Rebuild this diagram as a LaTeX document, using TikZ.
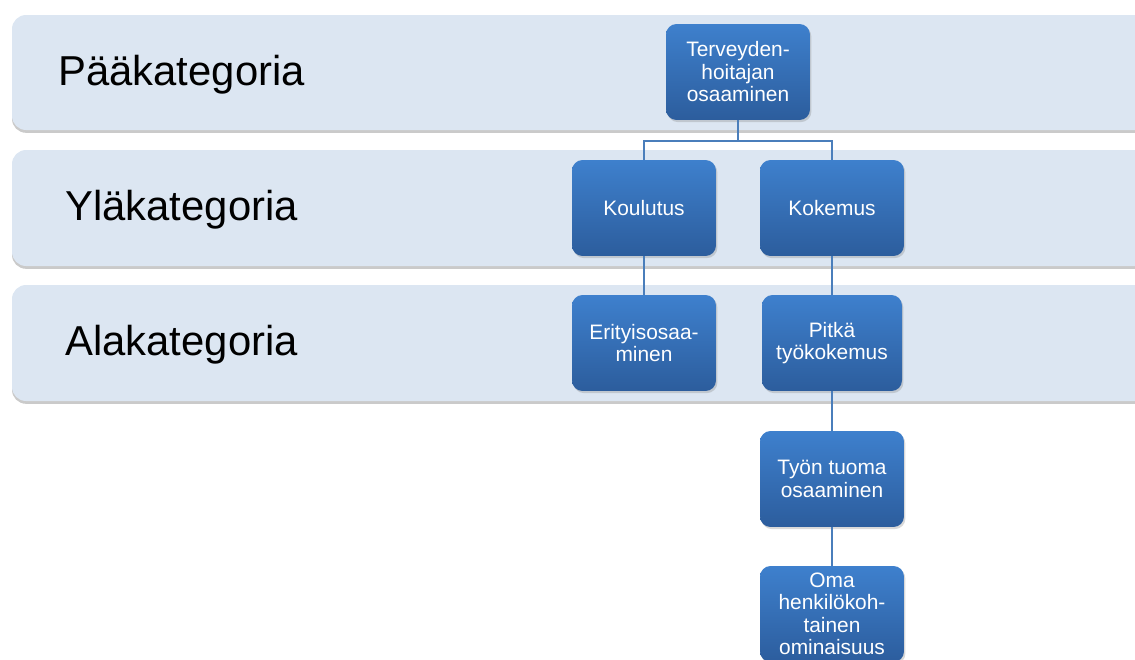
\documentclass[tikz,border=0pt]{standalone}
\usepackage{fontspec}
\setmainfont{Liberation Sans}
\usepackage{xcolor}
\usetikzlibrary{shadows,positioning}

\definecolor{bandfill}{HTML}{DCE6F2}
\definecolor{boxtop}{HTML}{3E80CD}
\definecolor{boxbottom}{HTML}{2C5D9D}
\definecolor{linkblue}{HTML}{4A7EBB}

\begin{document}
\begin{tikzpicture}[
    x=0.02cm, y=-0.02cm,
    band/.style={
        rounded corners=8pt,
        fill=bandfill,
        drop shadow={shadow xshift=0pt, shadow yshift=-1.6pt, opacity=0.35, fill=black!60}
    },
    levellabel/.style={
        anchor=west,
        inner sep=0pt,
        font=\fontsize{23.8}{28}\selectfont
    },
    catbox/.style={
        rectangle,
        rounded corners=6pt,
        top color=boxtop,
        bottom color=boxbottom,
        draw=none,
        text=white,
        align=center,
        font=\fontsize{11.9}{12.8}\selectfont,
        minimum width=2.88cm,
        minimum height=1.92cm,
        inner sep=2pt,
        drop shadow={shadow xshift=0.8pt, shadow yshift=-1.2pt, opacity=0.3}
    },
    link/.style={draw=linkblue, line width=1.1pt}
]

\useasboundingbox (0,0) rectangle (1135,659);

% =========================================================
% Levels
% =========================================================
\path[band] (12,15) rectangle (1160,130);
\path[band] (12,150) rectangle (1160,266);
\path[band] (12,285) rectangle (1160,401);

\node[levellabel] (paa) at (58,75) {Pääkategoria};
\node[levellabel] (yla) at (65,210) {Yläkategoria};
\node[levellabel] (ala) at (65,345) {Alakategoria};

% =========================================================
% Categories
% =========================================================
\node[catbox] (osaaminen) at (738,72) {Terveyden-\\hoitajan\\osaaminen};

\node[catbox] (koulutus) at (644,208) {Koulutus};
\node[catbox] (kokemus) at (832,208) {Kokemus};

\node[catbox] (erityis) at (644,343) {Erityisosaa-\\minen};
\node[catbox, minimum width=2.8cm] (pitka) at (832,343) {Pitkä\\työkokemus};

\node[catbox] (tyon) at (832,479) {Työn tuoma\\osaaminen};
\node[catbox] (oma) at (832,614) {Oma\\henkilökoh-\\tainen\\ominaisuus};

% Links
\draw[link] (osaaminen.south) -- ++(0,21) -| (koulutus.north);
\draw[link] (osaaminen.south) -- ++(0,21) -| (kokemus.north);
\draw[link] (koulutus.south) -- (erityis.north);
\draw[link] (kokemus.south) -- (pitka.north);
\draw[link] (pitka.south) -- (tyon.north);
\draw[link] (tyon.south) -- (oma.north);

\end{tikzpicture}
\end{document}
